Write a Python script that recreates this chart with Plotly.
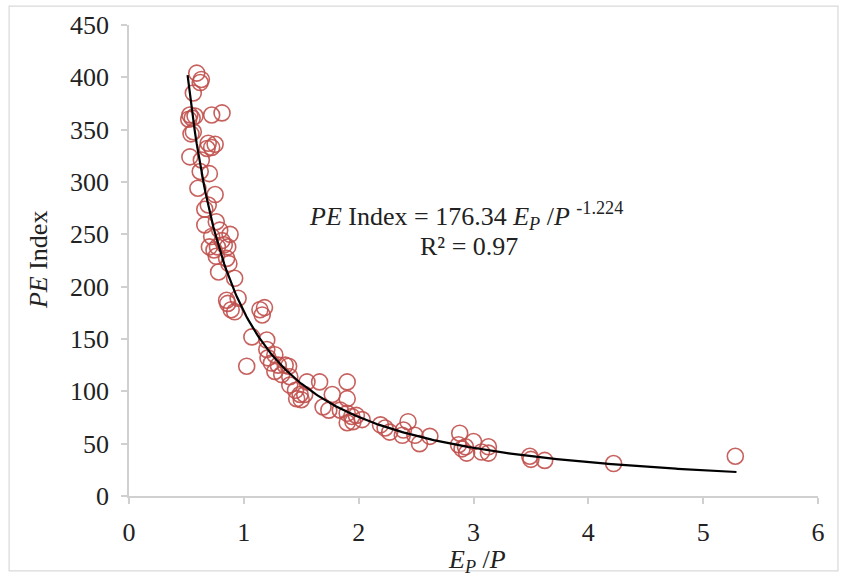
import numpy as np
import plotly.graph_objects as go

# Data
ep_p = [0.59, 0.63, 0.62, 0.56, 0.53, 0.52, 0.575, 0.55, 0.72, 0.81, 0.56, 0.54, 0.53,
        0.69, 0.75, 0.68, 0.72, 0.63, 0.62, 0.70, 0.60, 0.75, 0.69, 0.66, 0.66, 0.76,
        0.79, 0.72, 0.88, 0.70, 0.74, 0.77, 0.81, 0.83, 0.86, 0.76, 0.85, 0.87, 0.78,
        0.92, 0.85, 0.95, 0.89, 0.92, 0.86, 1.14, 1.18, 1.16, 1.07, 1.20, 1.025, 1.20,
        1.21, 1.27, 1.24, 1.30, 1.36, 1.39, 1.27, 1.33, 1.40, 1.40, 1.45, 1.49, 1.53,
        1.46, 1.50, 1.55, 1.66, 1.77, 1.90, 1.90, 1.69, 1.74, 1.84, 1.90, 1.94, 1.98,
        2.03, 1.90, 1.95, 2.19, 2.23, 2.27, 2.43, 2.39, 2.38, 2.49, 2.53, 2.62, 2.88,
        2.87, 2.93, 3.00, 2.94, 2.90, 3.07, 3.13, 3.13, 3.49, 3.50, 3.62, 4.22, 5.28]
pe_index = [404, 398, 395, 385, 364, 360, 363, 361, 364, 366, 348, 346, 324,
            337, 336, 332, 333, 321, 310, 308, 294, 288, 278, 274, 259, 262,
            254, 248, 250, 238, 235, 238, 244, 240, 238, 229, 227, 222, 214,
            208, 187, 189, 178, 176, 184, 178, 180, 173, 152, 149, 124, 140,
            132, 135, 127, 125, 125, 124, 119, 116, 114, 106, 101, 97, 97,
            93, 92, 109, 109, 97, 109, 93, 85, 82, 82, 79, 76, 77,
            73, 70, 71, 68, 65, 61, 71, 63, 58, 58, 50, 57, 60,
            49, 47, 52, 41, 45, 42, 47, 41, 38, 35, 34, 31, 38]

# Power-law trendline as printed on the chart
coef_a = 176.34
coef_b = -1.224
fit_range = [0.51, 5.29]
x_fit = np.linspace(fit_range[0], fit_range[1], 300)
y_fit = coef_a * x_fit ** coef_b

serif = "Liberation Serif, Times New Roman, serif"
axis_col = "#d0d0d0"
txt_col = "#222222"
fs = 26

fig = go.Figure()
fig.add_trace(go.Scatter(
    x=ep_p, y=pe_index, mode="markers",
    marker=dict(symbol="circle-open", size=16,
                line=dict(color="rgba(192,80,77,0.9)", width=1.6),
                color="rgba(192,80,77,0.9)"),
    showlegend=False, hoverinfo="x+y"))
fig.add_trace(go.Scatter(
    x=x_fit, y=y_fit, mode="lines",
    line=dict(color="black", width=2.2),
    showlegend=False, hoverinfo="skip"))

fig.update_layout(
    width=844, height=579,
    margin=dict(l=129, r=26, t=25, b=83),
    paper_bgcolor="white", plot_bgcolor="white",
    font=dict(family=serif, size=fs, color=txt_col),
    xaxis=dict(range=[0, 6], dtick=1, tick0=0, showgrid=False, zeroline=False,
               showline=True, linecolor=axis_col, linewidth=1.5,
               ticks="outside", ticklen=6, tickcolor=axis_col, tickwidth=1.5,
               ticklabelstandoff=6,
               tickfont=dict(family=serif, size=fs, color=txt_col)),
    yaxis=dict(range=[0, 450], dtick=50, tick0=0, showgrid=False, zeroline=False,
               showline=True, linecolor=axis_col, linewidth=1.5,
               ticks="outside", ticklen=6, tickcolor=axis_col, tickwidth=1.5,
               ticklabelstandoff=7,
               tickfont=dict(family=serif, size=fs, color=txt_col)),
    annotations=[
        dict(text="<i>PE</i> Index", xref="paper", yref="paper", x=-0.132, y=0.501,
             textangle=-90, showarrow=False, xanchor="center", yanchor="middle",
             font=dict(family=serif, size=fs, color=txt_col)),
        dict(text="<i>E<sub>P</sub></i> /<i>P</i>", xref="paper", yref="paper",
             x=0.505, y=-0.138, showarrow=False, xanchor="center", yanchor="middle",
             font=dict(family=serif, size=fs, color=txt_col)),
        dict(text="<i>PE</i> Index = 176.34 <i>E<sub>P</sub></i> /<i>P</i> <sup>-1.224</sup>",
             xref="x", yref="y", x=2.935, y=267.7, showarrow=False,
             xanchor="center", yanchor="middle",
             font=dict(family=serif, size=fs, color=txt_col)),
        dict(text="R² = 0.97", xref="x", yref="y", x=2.96, y=238, showarrow=False,
             xanchor="center", yanchor="middle",
             font=dict(family=serif, size=fs, color=txt_col)),
    ],
    shapes=[dict(type="rect", xref="paper", yref="paper",
                 x0=-0.174, x1=1.029, y0=-0.159, y1=1.040,
                 line=dict(color="#d9d9d9", width=1.2), fillcolor="rgba(0,0,0,0)",
                 layer="below")],
)

fig.write_html("out.html")
